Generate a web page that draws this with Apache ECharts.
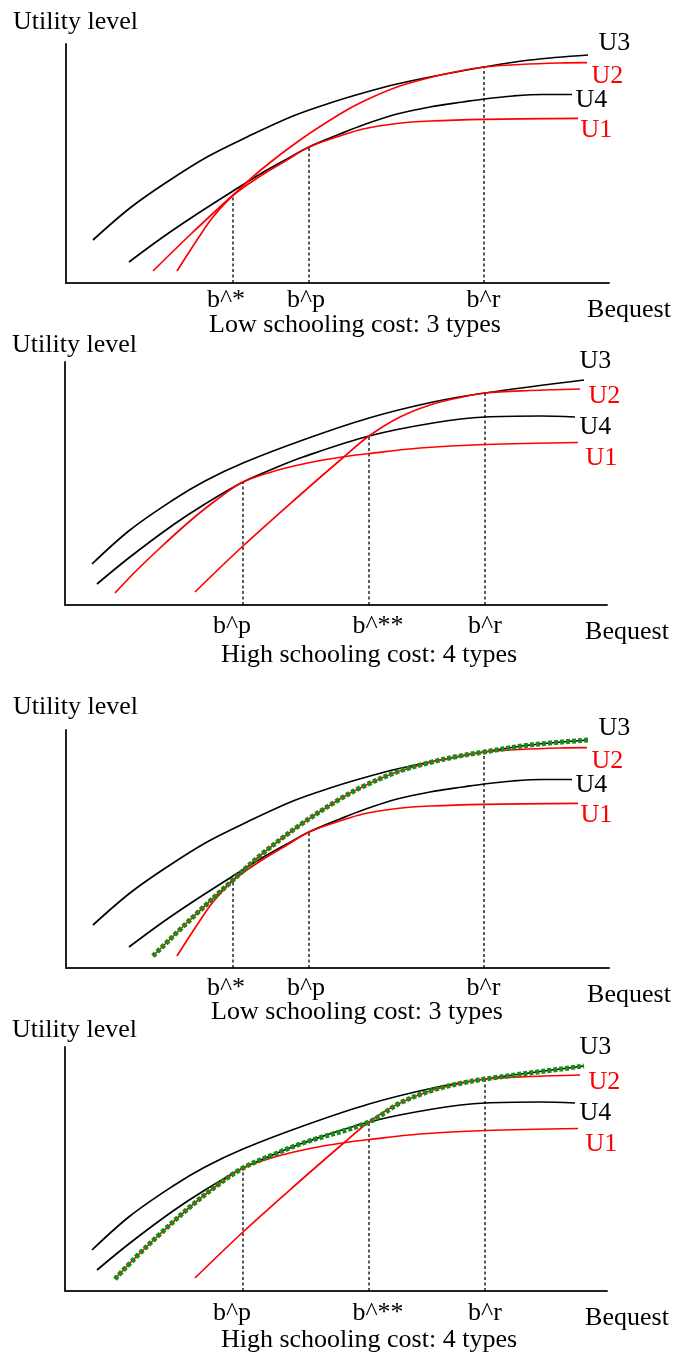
<!DOCTYPE html>
<html>
<head>
<meta charset="utf-8">
<title>Utility level and bequest</title>
<script src="https://cdn.jsdelivr.net/npm/echarts@6/dist/echarts.min.js"></script>
<style>
  html, body { margin: 0; padding: 0; background: #fff; }
  #chart { width: 675px; height: 1358px; }
</style>
</head>
<body>
<div id="chart"></div>
<script>
// values (pixels from each panel's origin)
// low schooling cost (panels 1 and 3)
const lowU3X = [27, 64, 101, 141, 181, 227, 264, 297, 331, 364, 418, 464, 522];
const lowU3Y = [43, 75, 101, 126, 146, 167, 180, 190, 199, 206, 216, 223, 228];
const lowU4X = [63, 97, 131, 167, 196, 221, 243, 274, 297, 331, 364, 397, 418, 447, 477, 506];
const lowU4Y = [21, 46, 69, 92, 110, 124, 136, 149, 158, 169, 176, 181, 184, 187, 188.5, 188.5];
const lowU2X = [87, 126, 167, 196, 234, 274, 297, 331, 364, 391, 418, 454, 494, 521];
const lowU2Y = [12, 50, 88, 114, 143, 169, 181.5, 196, 205.5, 211.5, 216, 218.5, 220, 220.3];
const lowU1X = [111, 131, 147, 167, 196, 221, 243, 274, 297, 331, 364, 418, 512];
const lowU1Y = [12, 43, 66, 87.5, 108, 123, 136, 147, 154, 159.5, 162, 163.7, 164.7];
const lowDashX = [167, 243, 418];
const lowDashTop = [88, 136, 216];
const lowTickX = [160, 240, 417.5];
const lowTickText = ['b^*', 'b^p', 'b^r'];
// which curve the green path follows, between two bequest values
const lowPath = [['U2', null, 418], ['U3', 418, null]];

// high schooling cost (panels 2 and 4)
const highU3X = [27, 65, 108, 140, 178, 238, 304, 368, 420, 519];
const highU3Y = [41, 75, 105, 124, 142, 165, 187, 203, 212, 225];
const highU4X = [32, 65, 108, 140, 178, 210, 238, 304, 368, 420, 475, 510];
const highU4Y = [21, 48, 80, 101, 123, 137, 148, 169, 182, 188, 189, 188];
const highU2X = [130, 178, 235, 277, 304, 335, 368, 395, 420, 465, 515];
const highU2Y = [13, 59, 110, 146.5, 169, 188, 201, 207.5, 212, 214.5, 216];
const highU1X = [50, 70, 95, 125, 150, 178, 215, 245, 277, 304, 355, 420, 513];
const highU1Y = [12, 33, 57, 84, 104, 123, 135.5, 142.5, 148, 151.5, 157, 160.5, 162.5];
const highDashX = [178, 304, 420];
const highDashTop = [123, 169, 212];
const highTickX = [167, 313, 420];
const highTickText = ['b^p', 'b^**', 'b^r'];
const highPath = [['U1', null, 178], ['U4', 178, 304], ['U2', 304, 420], ['U3', 420, null]];

const FONT = '"Liberation Serif", "Times New Roman", serif';
const FS = 26;
const RED = '#ff0000';
const GREEN = '#1a8a1a';
const SMOOTH = 0.35;

const sets = {
  low: {
    curves: {U3: [lowU3X, lowU3Y], U4: [lowU4X, lowU4Y], U2: [lowU2X, lowU2Y], U1: [lowU1X, lowU1Y]},
    dashX: lowDashX, dashTop: lowDashTop, tickX: lowTickX, tickText: lowTickText, path: lowPath,
    labelPos: {U3: [11, -11], U2: [5, 14], U4: [4, 6], U1: [3, 12]}
  },
  high: {
    curves: {U3: [highU3X, highU3Y], U4: [highU4X, highU4Y], U2: [highU2X, highU2Y], U1: [highU1X, highU1Y]},
    dashX: highDashX, dashTop: highDashTop, tickX: highTickX, tickText: highTickText, path: highPath,
    labelPos: {U3: [-4, -18], U2: [9, 8], U4: [5, 11], U1: [8, 16]}
  }
};

const panels = [
  {set: 'low', grid: {left: 66, top: 44, width: 543, height: 239}, title: 'Low schooling cost: 3 types',
    titleX: 350, titleY: 307, nameGap: 9, labelMargin: 4, green: false},
  {set: 'high', grid: {left: 65, top: 362, width: 542, height: 243}, title: 'High schooling cost: 4 types',
    titleX: 364, titleY: 637, nameGap: 4, labelMargin: 8, green: false},
  {set: 'low', grid: {left: 66, top: 730, width: 543, height: 238}, title: 'Low schooling cost: 3 types',
    titleX: 352, titleY: 994, nameGap: 10, labelMargin: 7, green: true},
  {set: 'high', grid: {left: 65, top: 1047, width: 542, height: 244}, title: 'High schooling cost: 4 types',
    titleX: 364, titleY: 1322, nameGap: 4, labelMargin: 9, green: true}
];

const colorOf = {U3: '#000', U4: '#000', U2: RED, U1: RED};

function toPoints(xs, ys) {
  return xs.map((x, i) => [x, ys[i]]);
}

// green path: pieces of the curves joined at the dashed lines
function buildPath(s) {
  const pts = [];
  s.path.forEach(([name, from, to]) => {
    const [xs, ys] = s.curves[name];
    xs.forEach((x, i) => {
      if ((from === null || x >= from) && (to === null || x <= to)) {
        if (pts.length && pts[pts.length - 1][0] === x) return;
        pts.push([x, ys[i]]);
      }
    });
  });
  return pts;
}

const grid = [], xAxis = [], yAxis = [], series = [], title = [];

panels.forEach((p, k) => {
  const s = sets[p.set];
  grid.push(p.grid);
  title.push({
    text: p.title, left: p.titleX, top: p.titleY, textAlign: 'center',
    textStyle: {fontFamily: FONT, fontSize: FS, fontWeight: 'normal', color: '#000'}
  });
  xAxis.push({
    gridIndex: k, type: 'value', min: 0, max: p.grid.width,
    axisLine: {show: true, onZero: false, lineStyle: {color: '#222', width: 2}},
    axisTick: {show: false}, splitLine: {show: false},
    axisLabel: {
      show: true, customValues: s.tickX, margin: p.labelMargin,
      formatter: v => s.tickText[s.tickX.indexOf(v)] || '',
      fontFamily: FONT, fontSize: FS, color: '#000'
    },
    name: 'Bequest', nameLocation: 'end', nameGap: 20,
    nameTextStyle: {fontFamily: FONT, fontSize: FS, color: '#000', align: 'center', verticalAlign: 'top', padding: [14, 0, 0, 0]}
  });
  yAxis.push({
    gridIndex: k, type: 'value', min: 0, max: p.grid.height,
    axisLine: {show: true, onZero: false, lineStyle: {color: '#222', width: 2}},
    axisTick: {show: false}, splitLine: {show: false}, axisLabel: {show: false},
    name: 'Utility level', nameLocation: 'end', nameGap: p.nameGap,
    nameTextStyle: {fontFamily: FONT, fontSize: FS, color: '#000', align: 'center', padding: [0, 0, 0, 19]}
  });

  // dashed drop lines
  s.dashX.forEach((x, i) => {
    series.push({
      type: 'line', xAxisIndex: k, yAxisIndex: k, silent: true, showSymbol: false,
      data: [[x, 0], [x, s.dashTop[i]]],
      lineStyle: {color: '#000', width: 1.3, type: [3, 2.5]}, z: 1
    });
  });

  ['U3', 'U4', 'U2', 'U1'].forEach(name => {
    const [xs, ys] = s.curves[name];
    const last = [xs[xs.length - 1], ys[ys.length - 1]];
    series.push({
      name, type: 'line', xAxisIndex: k, yAxisIndex: k, silent: true,
      showSymbol: false, smooth: SMOOTH,
      data: toPoints(xs, ys),
      lineStyle: {color: colorOf[name], width: 1.7}, z: 2,
      markPoint: {
        silent: true, symbol: 'rect', symbolSize: 1,
        itemStyle: {color: 'transparent'},
        data: [{
          coord: last,
          label: {
            show: true, formatter: name, position: s.labelPos[name],
            align: 'left', verticalAlign: 'middle',
            fontFamily: FONT, fontSize: FS, color: colorOf[name]
          }
        }]
      }
    });
  });

  if (p.green) {
    series.push({
      type: 'line', xAxisIndex: k, yAxisIndex: k, silent: true,
      showSymbol: false, smooth: SMOOTH,
      data: buildPath(s),
      lineStyle: {color: GREEN, width: 5, type: [4, 2]}, z: 3
    });
  }
});

const chart = echarts.init(document.getElementById('chart'));
chart.setOption({
  animation: false,
  backgroundColor: '#fff',
  title, grid, xAxis, yAxis, series
});
</script>
</body>
</html>
